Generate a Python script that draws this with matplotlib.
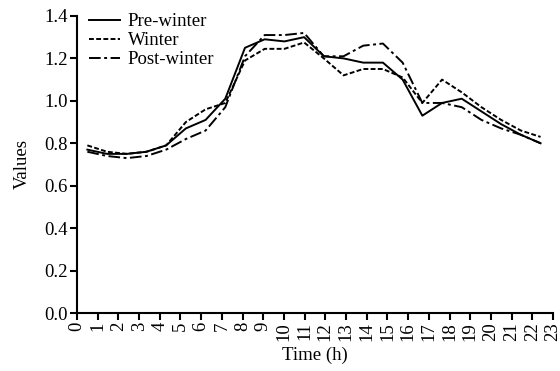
import numpy as np
import matplotlib.pyplot as plt

hours = np.arange(24)
pre_winter = [0.77, 0.75, 0.75, 0.76, 0.79, 0.87, 0.91, 1.01, 1.25, 1.29, 1.28, 1.30,
              1.21, 1.20, 1.18, 1.18, 1.10, 0.93, 0.99, 1.01, 0.95, 0.89, 0.84, 0.80]
winter = [0.79, 0.76, 0.75, 0.76, 0.79, 0.90, 0.96, 0.99, 1.19, 1.245, 1.245, 1.275,
          1.20, 1.12, 1.15, 1.15, 1.11, 0.99, 1.10, 1.04, 0.97, 0.91, 0.86, 0.83]
post_winter = [0.76, 0.74, 0.73, 0.74, 0.77, 0.82, 0.86, 0.97, 1.21, 1.31, 1.31, 1.32,
               1.21, 1.21, 1.26, 1.27, 1.18, 0.99, 0.99, 0.97, 0.91, 0.87, 0.84, 0.80]

plt.rcParams['font.family'] = ['Liberation Serif', 'DejaVu Serif']
plt.rcParams['font.size'] = 13.5

fig = plt.figure(figsize=(5.6, 3.71), dpi=100)
ax = fig.add_axes([0.1375, 0.1563, 0.85, 0.8007])

# points sit between the hour ticks, spread over 0.5 .. 22.4
x = 0.5 + hours * (21.9 / 23)
ax.plot(x, pre_winter, color='black', lw=1.4, ls='-', label='Pre-winter')
ax.plot(x, winter, color='black', lw=1.4, ls=(0, (2.5, 1.2)), label='Winter')
ax.plot(x, post_winter, color='black', lw=1.4, ls=(0, (6, 1.8, 1.5, 1.8)), label='Post-winter')

ax.set_xlim(0, 23)
ax.set_ylim(0, 1.4)
ax.set_xticks(np.arange(24))
ax.set_xticklabels([str(h) for h in range(24)], rotation=90)
ax.set_yticks(np.arange(0, 1.41, 0.2))
ax.set_yticklabels(['%.1f' % v for v in np.arange(0, 1.41, 0.2)])
ax.tick_params(direction='out', width=1.5, length=5, pad=1.5)
ax.spines['top'].set_visible(False)
ax.spines['right'].set_visible(False)
ax.spines['left'].set_linewidth(1.5)
ax.spines['bottom'].set_linewidth(1.5)
ax.set_xlabel('Time (h)', labelpad=4)
ax.set_ylabel('Values', labelpad=10)
ax.legend(loc='upper left', frameon=False, handlelength=1.65, handletextpad=0.4,
          labelspacing=0.1, borderaxespad=0.0, bbox_to_anchor=(0.01, 1.035), fontsize=13.5)

fig.savefig('out.png', dpi=100)
